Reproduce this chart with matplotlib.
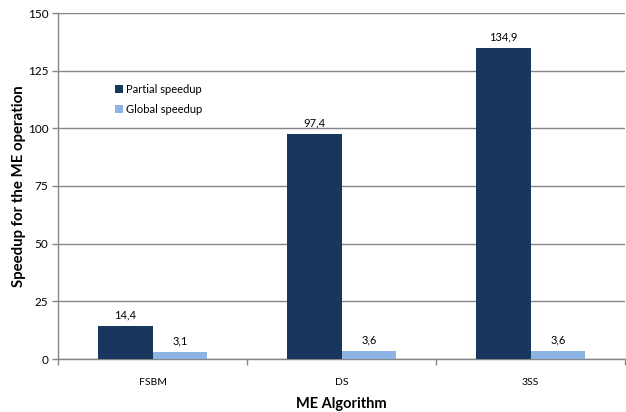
import matplotlib
matplotlib.use("Agg")
import matplotlib.pyplot as plt
import numpy as np

categories = ["FSBM", "DS", "3SS"]
partial = [14.4, 97.4, 134.9]
global_ = [3.1, 3.6, 3.6]
series_names = ["Partial speedup", "Global speedup"]
yticks = [0, 25, 50, 75, 100, 125, 150]

plt.rcParams['font.family'] = ['Lato', 'DejaVu Sans']

fig = plt.figure(figsize=(6.26, 4.12), dpi=100)
ax = fig.add_axes([58/626, 1-359/412, 567/626, 346/412])

x = np.arange(len(categories))
w = 0.29
dark = "#17375E"
light = "#8DB4E2"
b1 = ax.bar(x - w/2, partial, w, color=dark, label=series_names[0], zorder=3)
b2 = ax.bar(x + w/2, global_, w, color=light, label=series_names[1], zorder=3)

def fmt(v):
    return f"{v:.1f}".replace(".", ",")

for bars, vals in ((b1, partial), (b2, global_)):
    for r, v in zip(bars, vals):
        ax.text(r.get_x() + r.get_width()/2, v + 2.5, fmt(v), ha="center", va="bottom",
                fontsize=8, color="black")

ax.set_xlim(-0.5, 2.5)
ax.set_ylim(0, 150)
ax.set_yticks(yticks)
ax.set_xticks(x)
ax.set_xticklabels(categories, fontsize=7.5)
ax.set_xticks([-0.5, 0.5, 1.5, 2.5], minor=True)
ax.tick_params(axis="x", which="major", length=0, pad=14)
ax.tick_params(axis="x", which="minor", length=4, color="#868686", width=1)
ax.tick_params(axis="y", length=4, color="#868686", width=1, labelsize=8.5, pad=3)

ax.yaxis.grid(True, color="#868686", linewidth=1, zorder=0)
ax.set_axisbelow(True)
for s in ("top", "right"):
    ax.spines[s].set_visible(False)
for s in ("left", "bottom"):
    ax.spines[s].set_color("#868686")
    ax.spines[s].set_linewidth(1)

ax.set_ylabel("Speedup for the ME operation", fontsize=10.8, fontweight="bold", labelpad=1)
ax.set_xlabel("ME Algorithm", fontsize=10.5, fontweight="bold", labelpad=7)

leg = ax.legend(loc="upper left", bbox_to_anchor=(0.083, 0.823), frameon=False,
                fontsize=8, handlelength=0.7, handleheight=0.7, handletextpad=0.3,
                labelspacing=0.75)

fig.savefig("out.png", dpi=100)
